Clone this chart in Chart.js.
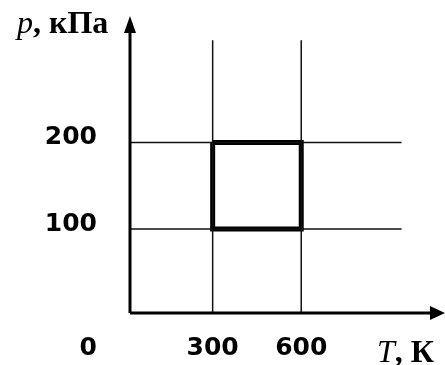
<!DOCTYPE html>
<html>
<head>
<meta charset="utf-8">
<script src="https://cdn.jsdelivr.net/npm/chart.js@4.4.0/dist/chart.umd.min.js"></script>
<style>
    body { margin: 0; background: #fff; }
    #chart { display: block; }
</style>
</head>
<body>
<canvas id="chart" width="445" height="365"></canvas>
<script>
    // datos del diagrama p-T
    const tempTicks = [300, 600];
    const pressTicks = [200, 100];
    const cycleT = [300, 600, 600, 300, 300];
    const cycleP = [200, 200, 100, 100, 200];
    const originLabel = "0";
    const tempMin = 20, tempMax = 1087;
    const pressMin = 3, pressMax = 346;
    const gridTopP = 318;
    const gridRightT = 940;

    const cycle = cycleT.map((t, i) => ({ x: t, y: cycleP[i] }));

    const gridSets = [];
    tempTicks.forEach(t => {
        gridSets.push({ data: [{ x: t, y: pressMin }, { x: t, y: gridTopP }] });
    });
    pressTicks.forEach(p => {
        gridSets.push({ data: [{ x: tempMin, y: p }, { x: gridRightT, y: p }] });
    });
    gridSets.forEach(ds => {
        ds.showLine = true;
        ds.borderColor = '#111';
        ds.borderWidth = 1.5;
        ds.pointRadius = 0;
        ds.clip = false;
    });

    const etiquetas = {
        id: 'etiquetas',
        afterDatasetsDraw(chart) {
            const ctx = chart.ctx;
            const xs = chart.scales.x;
            const ys = chart.scales.y;
            const area = chart.chartArea;

            ctx.save();
            ctx.fillStyle = '#000';
            ctx.strokeStyle = '#000';

            // ejes con flechas
            ctx.lineWidth = 3;
            ctx.beginPath();
            ctx.moveTo(area.left, area.bottom);
            ctx.lineTo(area.right - 10, area.bottom);
            ctx.moveTo(area.left, area.bottom);
            ctx.lineTo(area.left, area.top + 10);
            ctx.stroke();

            ctx.beginPath();
            ctx.moveTo(area.right, area.bottom);
            ctx.lineTo(area.right - 15, area.bottom - 7);
            ctx.lineTo(area.right - 15, area.bottom + 7);
            ctx.closePath();
            ctx.fill();

            ctx.beginPath();
            ctx.moveTo(area.left, area.top);
            ctx.lineTo(area.left - 6, area.top + 17);
            ctx.lineTo(area.left + 6, area.top + 17);
            ctx.closePath();
            ctx.fill();

            // numeros
            ctx.font = 'bold 25px "DejaVu Sans"';
            ctx.textBaseline = 'middle';
            ctx.textAlign = 'right';
            pressTicks.forEach(p => {
                ctx.fillText(String(p), area.left - 33, ys.getPixelForValue(p) - 5);
            });
            ctx.fillText(originLabel, area.left - 33, area.bottom + 35);
            ctx.textAlign = 'center';
            tempTicks.forEach(t => {
                ctx.fillText(String(t), xs.getPixelForValue(t), area.bottom + 35);
            });

            // titulos de ejes
            ctx.textBaseline = 'alphabetic';
            ctx.textAlign = 'left';
            let x = 17;
            ctx.font = 'italic 32px "Liberation Serif"';
            ctx.fillText('p', x, 33);
            x += ctx.measureText('p').width;
            ctx.font = 'bold 32px "Liberation Serif"';
            ctx.fillText(', кПа', x, 33);

            x = 377;
            ctx.font = 'italic 32px "Liberation Serif"';
            ctx.fillText('T', x, 362);
            x += ctx.measureText('T').width;
            ctx.font = 'bold 32px "Liberation Serif"';
            ctx.fillText(', К', x, 362);
            ctx.restore();
        }
    };

    new Chart(document.getElementById('chart').getContext('2d'), {
        type: 'scatter',
        data: {
            datasets: gridSets.concat([{
                data: cycle,
                showLine: true,
                borderColor: '#000',
                borderWidth: 5,
                borderJoinStyle: 'miter',
                pointRadius: 0,
                clip: false
            }])
        },
        options: {
            responsive: false,
            animation: false,
            layout: { padding: { left: 130, right: 0, top: 16, bottom: 52 } },
            scales: {
                x: { type: 'linear', display: false, min: tempMin, max: tempMax },
                y: { type: 'linear', display: false, min: pressMin, max: pressMax }
            },
            plugins: {
                legend: { display: false },
                tooltip: { enabled: false }
            }
        },
        plugins: [etiquetas]
    });
</script>
</body>
</html>
